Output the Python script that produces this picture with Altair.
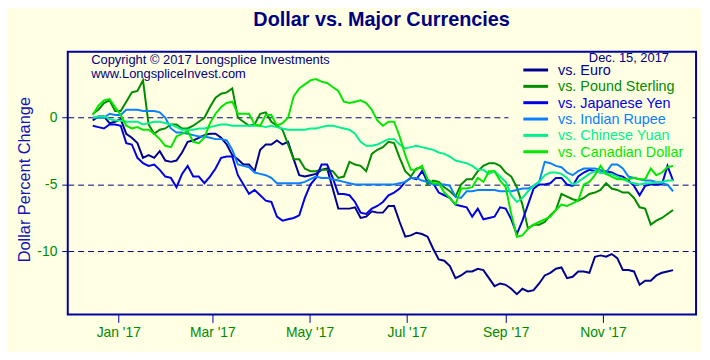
import altair as alt
import pandas as pd

# sampling dates: twice a week (every 3.5 days) from Dec 16, 2016 to Dec 15, 2017
dates = pd.date_range("2016-12-16", periods=105, freq="84h").strftime("%Y-%m-%dT%H:%M:%SZ").tolist()

euro = [-0.2, 0.1, 0.1, -0.4, -0.3, -0.1, -1.2, -1.5, -1.9, -3.0,
        -2.8, -3.0, -2.5, -3.2, -3.3, -3.2, -2.6, -1.8, -1.7, -1.5,
        -1.3, -1.2, -1.2, -1.5, -2.0, -2.8, -3.1, -3.5, -3.5, -4.0,
        -2.4, -2.0, -2.0, -1.7, -2.0, -1.8, -3.1, -4.3, -4.4, -4.3,
        -4.2, -3.9, -3.8, -5.3, -6.8, -6.8, -6.8, -6.7, -7.5, -7.4,
        -7.0, -7.1, -7.1, -6.6, -6.6, -7.8, -8.9, -8.8, -8.6, -8.7,
        -8.9, -9.8, -10.6, -10.7, -11.1, -12.0, -11.8, -11.5, -11.5, -11.3,
        -11.4, -12.0, -12.6, -12.4, -12.5, -12.8, -13.2, -12.8, -13.0, -12.9,
        -12.4, -11.8, -11.6, -11.3, -11.2, -12.0, -11.9, -11.5, -11.5, -11.6,
        -10.4, -10.3, -10.4, -10.2, -10.5, -11.4, -11.4, -11.5, -12.5, -12.2,
        -12.2, -11.8, -11.6, -11.5, -11.4]
pound = [0.3, 0.6, 1.1, 1.3, 0.5, 0.5, 1.2, 1.9, 2.0, 2.8,
         -0.5, -1.2, -0.9, -0.8, -0.5, -0.5, -0.8, -0.8, -0.6, -0.3,
         0.0, 0.8, 1.5, 1.8, 1.9, 2.2, 0.0, -0.3, -0.6, -0.5,
         0.3, 0.4, -0.3, -0.6, -0.9, -2.0, -3.1, -3.1, -3.8, -4.0,
         -4.0, -3.9, -3.9, -4.0, -4.5, -4.4, -3.3, -3.5, -3.6, -4.0,
         -2.7, -2.4, -2.2, -1.8, -1.9, -3.0, -4.0, -4.4, -3.8, -3.7,
         -5.0, -4.7, -4.8, -5.2, -5.5, -5.9, -5.0, -4.6, -4.6, -4.0,
         -3.6, -3.4, -3.4, -3.6, -4.1, -4.4, -5.2, -6.5, -8.3, -8.0,
         -8.0, -7.8, -7.3, -6.9, -5.7, -5.9, -6.1, -6.2, -6.0, -5.7,
         -5.6, -5.4, -4.9, -5.3, -5.4, -5.6, -5.6, -6.0, -6.7, -6.8,
         -8.0, -7.7, -7.5, -7.2, -6.9]
yen = [-0.6, -0.7, -0.8, -0.5, -0.5, -0.6, -1.9, -2.0, -3.0, -3.4,
       -3.6, -3.5, -3.9, -4.4, -4.5, -5.2, -4.2, -3.6, -4.4, -4.4,
       -4.9, -4.4, -3.8, -3.0, -2.9, -2.9, -4.3, -5.0, -5.7, -5.4,
       -5.8, -6.2, -6.3, -7.4, -7.7, -7.6, -7.5, -7.3, -6.0, -5.0,
       -4.5, -3.5, -3.5, -4.5, -5.7, -5.7, -5.8, -6.3, -7.1, -7.2,
       -6.8, -6.6, -6.3, -5.8, -5.6, -5.3, -4.8, -4.5, -4.6, -4.0,
       -4.7, -4.9, -5.6, -5.8, -6.0, -6.5, -6.6, -6.7, -7.4, -6.8,
       -7.6, -7.5, -7.4, -6.7, -6.8, -7.6, -8.7, -7.7, -6.5, -5.3,
       -5.0, -5.0, -4.9, -4.5, -4.5, -5.0, -5.1, -4.4, -4.1, -3.9,
       -4.0, -4.1, -4.0, -4.1, -4.3, -4.4, -4.7, -5.1, -5.8, -5.1,
       -5.0, -5.0, -5.0, -3.6, -4.7]
rupee = [0.0, 0.0, 0.0, 0.3, 0.2, 0.2, 0.6, 0.6, 0.6, 0.5,
         0.5, 0.5, 0.4, 0.0, -0.8, -1.1, -1.1, -1.2, -1.3, -1.4,
         -1.4, -1.5, -1.6, -1.6, -1.7, -2.4, -3.5, -3.6, -3.7, -4.1,
         -4.2, -4.3, -4.5, -4.9, -4.9, -4.9, -4.9, -4.9, -4.8, -4.6,
         -4.4, -4.5, -4.5, -4.6, -4.7, -4.8, -4.9, -5.0, -5.0, -5.0,
         -5.0, -5.0, -5.0, -5.0, -5.0, -4.9, -4.8, -4.5, -4.5, -4.7,
         -4.8, -5.0, -5.0, -5.0, -5.1, -5.9, -6.0, -5.5, -5.5, -5.4,
         -5.4, -5.4, -5.4, -5.5, -5.5, -5.5, -5.4, -5.3, -5.3, -5.1,
         -4.8, -3.3, -3.4, -3.6, -3.7, -4.1, -4.3, -4.0, -3.8, -3.8,
         -3.8, -3.9, -4.1, -3.5, -3.5, -3.8, -4.4, -4.5, -4.6, -4.7,
         -4.7, -4.8, -4.9, -5.0, -5.5]
yuan = [0.0, 0.1, 0.1, -0.1, -0.2, -0.2, -0.3, -0.3, -0.3, -0.5,
        -0.4, -0.3, -0.3, -0.4, -0.5, -0.7, -0.9, -0.9, -0.9, -0.8,
        -0.8, -0.7, -0.6, -0.5, -0.5, -0.6, -0.6, -0.6, -0.6, -0.6,
        -0.6, -0.7, -0.6, -0.7, -0.8, -0.9, -0.9, -0.9, -0.9, -0.8,
        -0.8, -0.7, -0.6, -0.6, -0.7, -0.8, -0.9, -1.2, -1.8, -2.1,
        -2.1, -2.0, -1.8, -1.6, -1.6, -2.0, -2.3, -2.2, -2.1, -2.2,
        -2.3, -2.4, -2.6, -2.7, -2.9, -3.2, -3.3, -3.4, -3.6, -3.9,
        -3.9, -4.2, -4.0, -4.4, -4.8, -5.8, -6.3, -6.0, -5.5, -5.1,
        -4.8, -4.3, -4.1, -4.1, -4.2, -4.5, -5.0, -4.8, -4.5, -4.2,
        -4.0, -4.1, -4.2, -4.2, -4.4, -4.6, -4.8, -4.9, -5.0, -4.9,
        -4.9, -4.8, -4.8, -4.7, -4.7]
cad = [0.2, 0.9, 1.3, 1.4, 0.8, 0.2, -0.6, -0.8, -0.7, -0.9,
       -0.9, -1.2, -1.6, -2.1, -2.2, -1.4, -1.2, -1.0, -1.8, -1.9,
       -1.5, -0.4, 0.3, 0.8, 1.1, 1.2, 0.3, 0.3, 0.3, -0.5,
       -0.6, 0.2, 0.2, -0.6, -0.4, 0.0, 1.6, 2.2, 2.5, 2.8,
       2.9, 2.7, 2.6, 2.3, 2.0, 1.2, 1.1, 1.2, 1.3, 1.1,
       0.6, -0.2, -0.6, -0.3, -0.3, -1.4, -2.8, -3.9, -3.9, -3.6,
       -4.6, -4.9, -4.9, -5.6, -6.0, -6.5, -5.3, -5.3, -5.2, -4.5,
       -4.8, -4.0, -4.0, -4.7, -5.2, -7.2, -8.9, -8.8, -8.3, -8.0,
       -7.8, -7.6, -7.4, -6.9, -6.5, -6.6, -6.4, -6.2, -5.0, -4.8,
       -4.3, -3.6, -4.2, -4.4, -4.6, -4.6, -4.6, -4.5, -4.6, -4.6,
       -3.8, -4.3, -4.1, -3.7, -3.6]

series_names = ["vs. Euro", "vs. Pound Sterling", "vs. Japanese Yen",
                "vs. Indian Rupee", "vs. Chinese Yuan", "vs. Canadian Dollar"]
series_values = [euro, pound, yen, rupee, yuan, cad]
series_colors = ["#000090", "#008C00", "#0000E6", "#0A80FF", "#00F090", "#00E800"]

y_ticks = [0, -5, -10]
x_ticks = ["2017-01-01", "2017-03-01", "2017-05-01", "2017-07-01", "2017-09-01", "2017-11-01"]

rows = []
for name, vals in zip(series_names, series_values):
    for d, v in zip(dates, vals):
        rows.append({"date": d, "value": v, "series": name})
df = pd.DataFrame(rows)

BG = "#FFFFE4"
NAVY = "#000080"
FRAME = "#0000A0"
GREEN = "#008A00"
FONT = "Liberation Sans"


def utc_dt(s, h=0):
    y, m, d = (int(p) for p in s.split("-"))
    return alt.DateTime(year=y, month=m, date=d, hours=h, utc=True)


color_scale = alt.Scale(domain=series_names, range=series_colors)

lines = alt.Chart(df).mark_line(strokeWidth=2, clip=True).encode(
    x=alt.X("date:T",
            scale=alt.Scale(type="utc", domain=[utc_dt("2016-11-30", 7), utc_dt("2017-12-29", 10)]),
            axis=alt.Axis(values=[utc_dt(t) for t in x_ticks],
                          labelExpr="utcFormat(datum.value, \"%b '%y\")",
                          grid=False, domain=False, ticks=True, tickSize=8, tickColor=FRAME,
                          tickWidth=1, labelColor=GREEN, labelFont=FONT, labelFontSize=14,
                          labelPadding=3, labelFlush=False, labelOverlap=False, title=None)),
    y=alt.Y("value:Q",
            scale=alt.Scale(domain=[-14.72, 4.93], nice=False, zero=False),
            axis=alt.Axis(values=y_ticks, grid=True, gridDash=[6, 4], gridColor=NAVY,
                          gridWidth=1, domain=False, ticks=True, tickSize=8, tickDash=[6, 4],
                          tickColor=NAVY, labelColor=GREEN, labelFont=FONT, labelFontSize=14,
                          labelPadding=3, labelBaseline="middle", labelExpr="'' + datum.value",
                          title="Dollar Percent Change", titleColor="#1414B4",
                          titleFont=FONT, titleFontSize=16.5, titleFontWeight="normal",
                          titleX=-38.5, titleY=128.5, titleBaseline="alphabetic",
                          titleAngle=270)),
    color=alt.Color("series:N", scale=color_scale, legend=None),
)

one = pd.DataFrame({"a": [0]})
legend_bg = alt.Chart(one).mark_rect(fill=BG, stroke=None).encode(
    x=alt.value(444.7), x2=alt.value(629.7), y=alt.value(3), y2=alt.value(108.3)
)

leg_df = pd.DataFrame({"series": series_names})
leg_y = alt.Y("series:N", axis=None,
              scale=alt.Scale(type="point", domain=series_names, range=[18.3, 100.8], padding=0))
legend_rules = alt.Chart(leg_df).mark_rule(strokeWidth=3).encode(
    x=alt.value(459.7), x2=alt.value(484.7), y=leg_y,
    color=alt.Color("series:N", scale=color_scale, legend=None),
)
legend_text = alt.Chart(leg_df).mark_text(align="left", baseline="middle", font=FONT,
                                          fontSize=14.5, dy=1).encode(
    x=alt.value(494.7), y=leg_y, text="series:N",
    color=alt.Color("series:N", scale=color_scale, legend=None),
)

title_df = pd.DataFrame({"label": ["Dollar vs. Major Currencies"]})
title_text = alt.Chart(title_df).mark_text(align="center", baseline="alphabetic", font=FONT,
                                           fontSize=20, fontWeight="bold", color=NAVY).encode(
    x=alt.value(316.7), y=alt.value(-26.0), text="label:N")

date_df = pd.DataFrame({"label": ["Dec. 15, 2017"]})
date_text = alt.Chart(date_df).mark_text(align="right", baseline="middle", font=FONT,
                                         fontSize=13, color=NAVY).encode(
    x=alt.value(606.7), y=alt.value(6.4), text="label:N")

copy_df1 = pd.DataFrame({"label": ["Copyright \u00a9 2017 Longsplice Investments"]})
copy_df2 = pd.DataFrame({"label": ["www.LongspliceInvest.com"]})
copy1 = alt.Chart(copy_df1).mark_text(align="left", baseline="middle", font=FONT,
                                      fontSize=13, color=NAVY).encode(
    x=alt.value(23.7), y=alt.value(8.0), text="label:N")
copy2 = alt.Chart(copy_df2).mark_text(align="left", baseline="middle", font=FONT,
                                      fontSize=13, color=NAVY).encode(
    x=alt.value(23.7), y=alt.value(22.5), text="label:N")

chart = alt.layer(lines, legend_bg, legend_rules, legend_text, title_text, date_text,
                  copy1, copy2).resolve_scale(
    y="independent"
).properties(
    width=634, height=265,
    autosize=alt.AutoSizeParams(type="none"),
    padding={"left": 60.3, "top": 42.7, "right": 6, "bottom": 36},
    background=BG,
).configure_view(stroke=FRAME, strokeWidth=2)

chart.save("out.html", embed_options={"renderer": "svg", "actions": False})
